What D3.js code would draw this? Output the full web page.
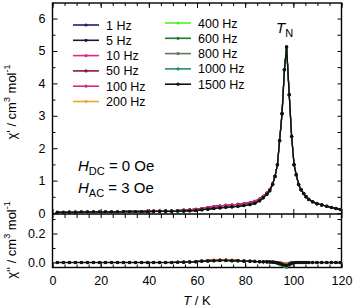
<!DOCTYPE html>
<html>
<head>
<meta charset="utf-8">
<script src="https://cdn.jsdelivr.net/npm/d3@7"></script>
<style>
  body { margin: 0; background: #fff; }
  svg { display: block; font-family: "Liberation Sans", Arial, sans-serif; }
  .axis text { font-size: 12.5px; fill: #000; }
  .axis line { stroke: #000; stroke-width: 1; }
</style>
</head>
<body>
<svg id="chart" width="355" height="307"></svg>
<script>
// frequencies and legend colours
const freqs = ["1 Hz", "5 Hz", "10 Hz", "50 Hz", "100 Hz", "200 Hz",
               "400 Hz", "600 Hz", "800 Hz", "1000 Hz", "1500 Hz"];
const colors = ["#1b1f5c", "#20123f", "#e0287c", "#8a1547", "#d42a86", "#e8a72a",
                "#4cf02a", "#1f7a2a", "#5f7a5a", "#22905a", "#111111"];
// which data group each frequency follows (they overlap almost everywhere)
const realGroup = [0, 0, 0, 0, 0, 1, 1, 1, 1, 1, 1];
const imagGroup = [0, 0, 0, 0, 0, 0, 1, 1, 1, 1, 2];

// temperature points (K)
const temps = [2, 4.5, 7, 9.5, 12, 14.5, 17, 19.5, 22, 24.5, 27, 29.5, 32, 34.5, 37, 39.5,
  42, 44.5, 47, 49.5, 52, 54.5, 57, 59.5, 62, 64.5, 67, 69.5, 72, 74.5, 77, 79.5, 82, 84,
  86, 87.5, 89, 90.2, 91.4, 92.4, 93.4, 94.3, 95.3, 96.3, 97.2, 98.3, 99.3, 100.3, 101.2,
  102.2, 103.2, 104.3, 105.3, 106.4, 108, 109.8, 111.8, 113.9, 115.8, 117.7, 119.5];

// chi' (cm3/mol): low frequencies, high frequencies
const chiRealLow = [0.02, 0.02, 0.03, 0.03, 0.03, 0.03, 0.04, 0.04, 0.04, 0.04, 0.04, 0.05, 0.05, 0.05, 0.05, 0.06,
  0.06, 0.06, 0.07, 0.07, 0.08, 0.09, 0.1, 0.12, 0.14, 0.17, 0.2, 0.22, 0.24, 0.25, 0.27, 0.29, 0.32, 0.36,
  0.43, 0.52, 0.62, 0.72, 0.9, 1.14, 1.5, 2.24, 3.07, 4.42, 5.12, 3.65, 2.36, 1.49, 1.18,
  0.88, 0.72, 0.6, 0.5, 0.42, 0.35, 0.29, 0.25, 0.21, 0.17, 0.14, 0.11];
const chiRealHigh = [0.02, 0.02, 0.02, 0.02, 0.03, 0.03, 0.03, 0.03, 0.03, 0.03, 0.03, 0.04, 0.04, 0.04, 0.04, 0.04,
  0.05, 0.05, 0.05, 0.05, 0.06, 0.06, 0.07, 0.08, 0.1, 0.12, 0.14, 0.16, 0.18, 0.19, 0.21, 0.23, 0.26, 0.3,
  0.38, 0.47, 0.58, 0.69, 0.88, 1.13, 1.49, 2.23, 3.06, 4.42, 5.12, 3.65, 2.36, 1.49, 1.18,
  0.88, 0.72, 0.6, 0.5, 0.42, 0.35, 0.29, 0.25, 0.21, 0.17, 0.14, 0.11];

// chi'' (cm3/mol): 1-200 Hz, 400-1000 Hz, 1500 Hz
const chiImLow = [0, 0, 0, 0, 0, 0, 0, 0, 0, 0, 0, 0, 0, 0, 0, 0,
  0, 0, 0, 0, 0.001, 0.002, 0.004, 0.007, 0.011, 0.014, 0.016, 0.017, 0.017, 0.016, 0.014, 0.012, 0.01, 0.008,
  0.007, 0.006, 0.005, 0.004, 0.003, 0.002, 0, -0.002, -0.005, -0.008, -0.01, -0.006, -0.003, -0.001, 0,
  0, 0, 0, 0, 0, 0, 0, 0, 0, 0, 0, 0];
const chiImMid = [0, 0, 0, 0, 0, 0, 0, 0, 0, 0, 0, 0, 0, 0, 0, 0,
  0, 0, 0, 0, 0.001, 0.002, 0.003, 0.005, 0.008, 0.01, 0.012, 0.013, 0.013, 0.012, 0.011, 0.009, 0.008, 0.006,
  0.005, 0.004, 0.004, 0.003, 0.002, 0, -0.005, -0.011, -0.019, -0.027, -0.032, -0.02, -0.009, -0.003, 0,
  0, 0, 0, 0, 0, 0, 0, 0, 0, 0, 0, 0];
const chiImHigh = [0, 0, 0, 0, 0, 0, 0, 0, 0, 0, 0, 0, 0, 0, 0, 0,
  0, 0, 0, 0, 0.001, 0.002, 0.003, 0.005, 0.008, 0.01, 0.012, 0.013, 0.013, 0.012, 0.011, 0.009, 0.008, 0.006,
  0.005, 0.004, 0.004, 0.003, 0.002, 0, -0.003, -0.007, -0.012, -0.018, -0.02, -0.012, -0.005, -0.002, 0,
  0, 0, 0, 0, 0, 0, 0, 0, 0, 0, 0, 0];

const realSets = [chiRealLow, chiRealHigh];
const imagSets = [chiImLow, chiImMid, chiImHigh];

const svg = d3.select("#chart");

const LEFT = 52.5, RIGHT = 341.5;
const UP = { top: 3, bottom: 214 };
const LO = { top: 214, bottom: 267.5 };

const x = d3.scaleLinear().domain([0, 120]).range([LEFT, RIGHT]);
const yUp = d3.scaleLinear().domain([-0.03, 6.48]).range([UP.bottom, UP.top]);
const yLo = d3.scaleLinear().domain([-0.035, 0.335]).range([LO.bottom, LO.top]);

const xMajor = d3.range(0, 121, 20);
const xMinor = d3.range(0, 121, 5);

// helper: axis group with inward ticks, no domain path
function axisG(axis, tx, ty) {
  const g = svg.append("g").attr("class", "axis")
    .attr("transform", `translate(${tx},${ty})`)
    .call(axis);
  g.select(".domain").remove();
  return g;
}

// upper panel axes
axisG(d3.axisLeft(yUp).tickValues(d3.range(0, 6.1, 1)).tickSize(-5).tickPadding(7).tickFormat(d3.format("d")), LEFT, 0);
axisG(d3.axisLeft(yUp).tickValues(d3.range(0.5, 6.5, 1)).tickSize(-3).tickFormat(""), LEFT, 0);
axisG(d3.axisRight(yUp).tickValues(d3.range(0, 6.5, 0.5)).tickSize(-4).tickFormat(""), RIGHT, 0);
axisG(d3.axisTop(x).tickValues(xMajor).tickSize(-5).tickFormat(""), 0, UP.top);
axisG(d3.axisTop(x).tickValues(xMinor).tickSize(-3).tickFormat(""), 0, UP.top);
axisG(d3.axisBottom(x).tickValues(xMajor).tickSize(-5).tickFormat(""), 0, UP.bottom);

// lower panel axes
axisG(d3.axisLeft(yLo).tickValues([0, 0.2]).tickSize(-5).tickPadding(7).tickFormat(d3.format(".1f")), LEFT, 0);
axisG(d3.axisLeft(yLo).tickValues([0.1, 0.3]).tickSize(-3).tickFormat(""), LEFT, 0);
axisG(d3.axisRight(yLo).tickValues([0, 0.1, 0.2, 0.3]).tickSize(-4).tickFormat(""), RIGHT, 0);
axisG(d3.axisTop(x).tickValues(xMinor).tickSize(-4).tickFormat(""), 0, LO.top);
axisG(d3.axisBottom(x).tickValues(xMajor).tickSize(-5).tickPadding(9).tickFormat(d3.format("d")), 0, LO.bottom);
axisG(d3.axisBottom(x).tickValues(xMinor).tickSize(-3).tickFormat(""), 0, LO.bottom);

// frames
svg.append("rect").attr("x", LEFT).attr("y", UP.top).attr("width", RIGHT - LEFT)
  .attr("height", LO.bottom - UP.top).attr("fill", "none").attr("stroke", "#000").attr("stroke-width", 1.4);
svg.append("line").attr("x1", LEFT).attr("x2", RIGHT).attr("y1", UP.bottom).attr("y2", UP.bottom)
  .attr("stroke", "#000").attr("stroke-width", 1.4);

// data series, 1500 Hz drawn last and a little heavier
const lineUp = d3.line().x(d => x(d[0])).y(d => yUp(d[1]));
const lineLo = d3.line().x(d => x(d[0])).y(d => yLo(d[1]));

freqs.forEach((f, i) => {
  const last = i === freqs.length - 1;
  const re = temps.map((t, k) => [t, realSets[realGroup[i]][k]]);
  const im = temps.map((t, k) => [t, imagSets[imagGroup[i]][k]]);
  [[re, lineUp, yUp], [im, lineLo, yLo]].forEach(([pts, gen, ys]) => {
    const g = svg.append("g");
    g.append("path").attr("d", gen(pts)).attr("fill", "none")
      .attr("stroke", colors[i]).attr("stroke-width", last ? 1.4 : 1.1);
    g.selectAll("circle").data(pts).join("circle")
      .attr("cx", d => x(d[0])).attr("cy", d => ys(d[1])).attr("r", last ? 1.8 : 1.5)
      .attr("fill", colors[i]);
  });
});

// legend
freqs.forEach((f, i) => {
  const col = i < 6 ? 0 : 1;
  const row = col === 0 ? i : i - 6;
  const lx = col === 0 ? 73 : 165;
  const ly = (col === 0 ? 25 : 23) + row * 15.3;
  const g = svg.append("g").attr("transform", `translate(${lx},${ly})`);
  g.append("line").attr("x1", 0).attr("x2", 26).attr("stroke", colors[i]).attr("stroke-width", 1.6);
  g.append("circle").attr("cx", 13).attr("r", 1.6).attr("fill", colors[i]);
  g.append("text").attr("x", 33).attr("y", 4.5).attr("font-size", 12.5).text(f);
});

// annotations
const tn = svg.append("text").attr("x", 276).attr("y", 33).attr("font-size", 15);
tn.append("tspan").attr("font-style", "italic").text("T");
tn.append("tspan").attr("font-size", 11).attr("dy", 4).text("N");

const h1 = svg.append("text").attr("x", 78).attr("y", 171).attr("font-size", 15);
h1.append("tspan").attr("font-style", "italic").text("H");
h1.append("tspan").attr("font-size", 11).attr("dy", 4).text("DC");
h1.append("tspan").attr("dy", -4).text(" = 0 Oe");

const h2 = svg.append("text").attr("x", 78).attr("y", 193).attr("font-size", 15);
h2.append("tspan").attr("font-style", "italic").text("H");
h2.append("tspan").attr("font-size", 11).attr("dy", 4).text("AC");
h2.append("tspan").attr("dy", -4).text(" = 3 Oe");

// axis titles
const xt = svg.append("text").attr("x", x(60)).attr("y", 305).attr("text-anchor", "middle").attr("font-size", 13);
xt.append("tspan").attr("font-style", "italic").text("T");
xt.append("tspan").text(" / K");

function yTitle(label, cy) {
  const t = svg.append("text").attr("transform", `translate(16,${cy}) rotate(-90)`)
    .attr("text-anchor", "middle").attr("font-size", 13);
  t.append("tspan").text(label + " / cm");
  t.append("tspan").attr("font-size", 9).attr("dy", -6).text("3");
  t.append("tspan").attr("dy", 6).text(" mol");
  t.append("tspan").attr("font-size", 9).attr("dy", -6).text("-1");
}
yTitle("\u03c7'", 102);
yTitle("\u03c7''", 240);
</script>
</body>
</html>
